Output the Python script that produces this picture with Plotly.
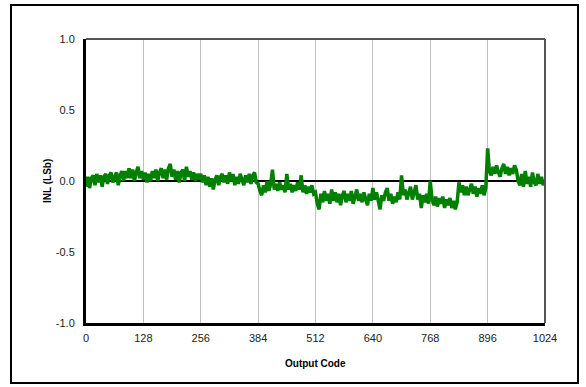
import plotly.graph_objects as go

# Output code positions (every 4 codes) and INL values
codes = list(range(0, 1024, 4)) + [1023]

inl_0 = [-0.04, 0.03, -0.05, 0.02, 0.04, -0.03, 0.05, -0.01, 0.04, -0.04, 0.03, 0.05, -0.02, 0.04, 0.06, -0.01,
         0.03, 0.06, -0.03, 0.04, 0.07, 0.00, 0.07, 0.02, 0.09, 0.02, 0.08, 0.00, 0.06, 0.10, 0.02, 0.07]
inl_1 = [0.01, 0.06, -0.01, 0.05, 0.00, 0.07, 0.02, 0.08, 0.00, 0.06, 0.09, 0.02, 0.08, 0.01, 0.09, 0.12,
         0.03, 0.08, 0.01, 0.07, -0.01, 0.06, 0.08, 0.00, 0.10, 0.03, 0.07, 0.01, 0.06, 0.00, 0.05, 0.01]
inl_2 = [0.05, -0.01, 0.04, -0.03, 0.03, -0.04, 0.02, -0.06, 0.01, 0.04, -0.03, 0.03, 0.05, -0.01, 0.04, -0.02,
         0.06, 0.00, 0.05, -0.03, 0.03, -0.02, 0.05, 0.00, -0.03, 0.04, -0.01, 0.05, -0.02, 0.04, 0.06, -0.01]
inl_3 = [-0.02, -0.07, -0.10, -0.03, -0.08, 0.00, -0.07, -0.02, 0.08, -0.06, -0.02, -0.07, -0.01, -0.06, -0.03, -0.08,
         0.05, -0.06, -0.02, -0.08, -0.03, -0.07, -0.01, -0.06, 0.04, -0.08, -0.03, -0.09, -0.04, -0.08, -0.03, -0.09]
inl_4 = [-0.08, -0.16, -0.20, -0.09, -0.15, -0.07, -0.14, -0.09, -0.16, -0.06, -0.14, -0.08, -0.15, -0.09, -0.17, -0.10,
         -0.07, -0.15, -0.09, -0.14, -0.07, -0.16, -0.10, -0.06, -0.14, -0.09, -0.15, -0.08, -0.13, -0.17, -0.09, -0.14]
inl_5 = [-0.05, -0.13, -0.08, -0.15, -0.20, -0.10, -0.14, -0.08, -0.05, -0.14, -0.09, -0.16, -0.11, -0.15, -0.08, -0.13,
         0.04, -0.10, -0.06, -0.13, -0.08, -0.04, -0.13, -0.07, -0.03, -0.13, -0.09, -0.19, -0.10, -0.15, -0.09, -0.16]
inl_6 = [0.00, -0.13, -0.17, -0.11, -0.18, -0.12, -0.16, -0.11, -0.19, -0.13, -0.17, -0.12, -0.19, -0.14, -0.20, -0.15,
         -0.01, -0.08, -0.03, -0.10, -0.04, -0.10, -0.05, -0.02, -0.09, -0.04, -0.11, -0.05, -0.09, -0.03, -0.10, -0.05]
inl_7 = [0.23, 0.07, 0.04, 0.10, 0.05, 0.11, 0.06, 0.03, 0.09, 0.12, 0.05, 0.10, 0.04, 0.09, 0.05, 0.11,
         0.08, 0.00, -0.03, 0.05, -0.04, 0.07, -0.02, 0.03, -0.04, 0.06, -0.01, -0.03, 0.05, -0.02, 0.03, -0.03, 0.01]

inl = inl_0 + inl_1 + inl_2 + inl_3 + inl_4 + inl_5 + inl_6 + inl_7

zero_x = [0, 1024]
zero_y = [0, 0]

x_ticks = [0, 128, 256, 384, 512, 640, 768, 896, 1024]
y_ticks = [-1.0, -0.5, 0.0, 0.5, 1.0]

font = "Liberation Sans, Arial, sans-serif"

fig = go.Figure()
fig.add_trace(go.Scatter(x=zero_x, y=zero_y, mode="lines",
                         line=dict(color="black", width=2), showlegend=False, hoverinfo="skip"))
fig.add_trace(go.Scatter(x=codes, y=inl, mode="lines",
                         line=dict(color="#008000", width=3.5), showlegend=False))

fig.update_layout(
    width=586, height=387,
    margin=dict(l=86, r=41, t=39, b=64),
    paper_bgcolor="white", plot_bgcolor="white",
    font=dict(family=font, size=11, color="#222"),
    xaxis=dict(range=[0, 1024], tickvals=x_ticks, ticktext=[str(v) for v in x_ticks],
               showgrid=True, gridcolor="#c0c0c0", gridwidth=1, zeroline=False,
               showline=True, linecolor="black", linewidth=3, ticks="", ticklen=0,
               ticklabelstandoff=3),
    yaxis=dict(range=[-1, 1], tickvals=y_ticks, ticktext=["%.1f" % v for v in y_ticks],
               showgrid=False, zeroline=False,
               showline=True, linecolor="black", linewidth=3, ticks="", ticklen=0,
               ticklabelstandoff=6),
    shapes=[
        dict(type="line", xref="x domain", yref="y domain", x0=0, x1=1, y0=1, y1=1,
             line=dict(color="#555", width=2)),
        dict(type="line", xref="x domain", yref="y domain", x0=1, x1=1, y0=0, y1=1,
             line=dict(color="#555", width=2)),
        dict(type="rect", xref="paper", yref="paper",
             x0=(11 - 86) / 459, x1=(578 - 86) / 459,
             y0=(323 - 383) / 284, y1=(323 - 5) / 284,
             line=dict(color="black", width=2), fillcolor="rgba(0,0,0,0)", layer="above"),
    ],
    annotations=[
        dict(text="<b>Output Code</b>", xref="paper", yref="paper",
             x=0.5, y=(323 - 363) / 284, showarrow=False, font=dict(size=10, color="black"),
             xanchor="center", yanchor="middle"),
        dict(text="<b>INL (LSb)</b>", xref="paper", yref="paper",
             x=(47 - 86) / 459, y=0.5, showarrow=False, textangle=-90,
             font=dict(size=10, color="black"), xanchor="center", yanchor="middle"),
    ],
)

fig.write_html("out.html", config={"displayModeBar": False},
               post_script="document.body.style.margin='0px';document.body.style.overflow='hidden';")
